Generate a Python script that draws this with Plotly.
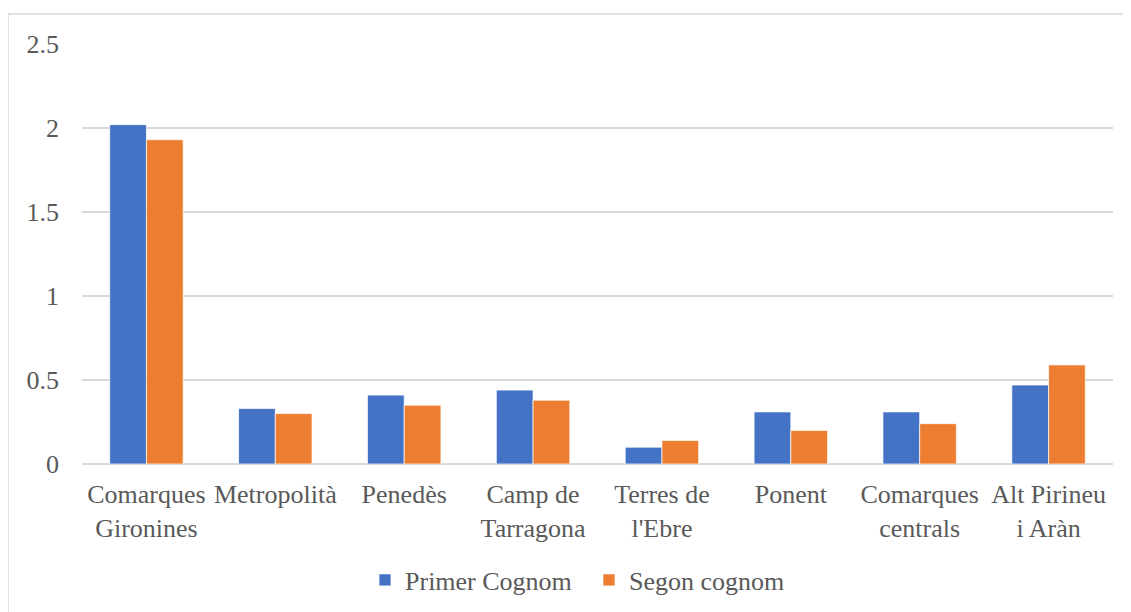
import plotly.graph_objects as go

categories = ["Comarques<br>Gironines", "Metropolità", "Penedès", "Camp de<br>Tarragona",
              "Terres de<br>l'Ebre", "Ponent", "Comarques<br>centrals", "Alt Pirineu<br>i Aràn"]
primer_cognom = [2.02, 0.33, 0.41, 0.44, 0.10, 0.31, 0.31, 0.47]
segon_cognom = [1.93, 0.30, 0.35, 0.38, 0.14, 0.20, 0.24, 0.59]
y_ticks = [0, 0.5, 1, 1.5, 2, 2.5]
y_tick_labels = ["0", "0.5", "1", "1.5", "2", "2.5"]

FONT = "Liberation Serif"
TXT = "#595959"
GRID = "#D9D9D9"

fig = go.Figure()
fig.add_trace(go.Bar(name="Primer Cognom", x=categories, y=primer_cognom,
                     marker=dict(color="#4472C4", line=dict(color="#FFFFFF", width=0.7))))
fig.add_trace(go.Bar(name="Segon cognom", x=categories, y=segon_cognom,
                     marker=dict(color="#ED7D31", line=dict(color="#FFFFFF", width=0.7))))

# page body has an 8px margin, so the figure is offset by (8, 8)
fig.update_layout(
    width=1123, height=604,
    margin=dict(l=74, r=18, t=36, b=148),
    paper_bgcolor="white", plot_bgcolor="white",
    barmode="group", bargap=0.43, bargroupgap=0,
    font=dict(family=FONT, size=26, color=TXT),
    showlegend=True,
    legend=dict(orientation="h", x=0.2745, xanchor="left", yref="container", y=0.053, yanchor="middle",
                font=dict(family=FONT, size=26, color=TXT), itemwidth=30,
                entrywidth=179, entrywidthmode="pixels",
                traceorder="normal"),
    xaxis=dict(showgrid=False, showline=False, ticks="", tickfont=dict(family=FONT, size=26, color=TXT),
               ticklabelstandoff=12, fixedrange=True),
    yaxis=dict(range=[0, 2.5], tickvals=y_ticks, ticktext=y_tick_labels,
               showgrid=True, gridcolor=GRID, gridwidth=1.5,
               zeroline=True, zerolinecolor=GRID, zerolinewidth=1.5,
               showline=False, ticks="", tickfont=dict(family=FONT, size=26, color=TXT),
               ticklabelstandoff=22),
    shapes=[dict(type="rect", xref="paper", yref="paper",
                 x0=-0.0718, x1=1.03, y0=-0.4, y1=1.0714,
                 line=dict(color=GRID, width=1.5), fillcolor="rgba(0,0,0,0)", layer="below")],
)

fig.write_html("out.html")
